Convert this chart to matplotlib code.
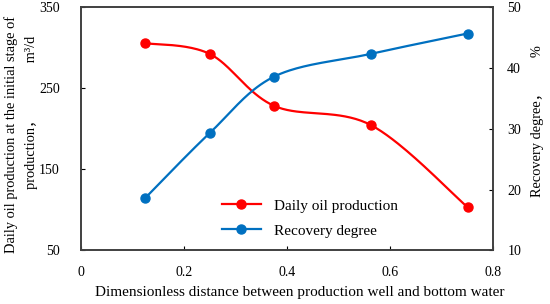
import numpy as np
import matplotlib
matplotlib.use('Agg')
import matplotlib.pyplot as plt

plt.rcParams['font.family'] = ['Liberation Serif', 'Noto Sans CJK SC']

# data
distance = [0.125, 0.25, 0.375, 0.5625, 0.75]
daily_oil = [305.8, 292.6, 228.4, 204.7, 103.3]
recovery = [18.6, 29.3, 38.6, 42.35, 45.7]


def smooth(x, y, xlim, ylim, n=40):
    # spreadsheet-like "smooth line" (Catmull-Rom Bezier), in normalised axes space
    px = (np.asarray(x) - xlim[0]) / (xlim[1] - xlim[0])
    py = (np.asarray(y) - ylim[0]) / (ylim[1] - ylim[0])
    pts = np.column_stack([px, py])
    out = []
    for i in range(len(pts) - 1):
        p0 = pts[i - 1] if i > 0 else pts[i]
        p1, p2 = pts[i], pts[i + 1]
        p3 = pts[i + 2] if i + 2 < len(pts) else pts[i + 1]
        c1 = p1 + (p2 - p0) / 6
        c2 = p2 - (p3 - p1) / 6
        t = np.linspace(0, 1, n)[:, None]
        seg = (1 - t) ** 3 * p1 + 3 * (1 - t) ** 2 * t * c1 + 3 * (1 - t) * t ** 2 * c2 + t ** 3 * p2
        out.append(seg)
    out = np.vstack(out)
    return (out[:, 0] * (xlim[1] - xlim[0]) + xlim[0],
            out[:, 1] * (ylim[1] - ylim[0]) + ylim[0])


W, H = 550, 304
fig = plt.figure(figsize=(5.5, 3.04), dpi=100)
ax = fig.add_axes([0.1467, 0.1766, 0.897 - 0.1467, 0.9757 - 0.1766])
ax2 = ax.twinx()

xlim = (0, 0.8)
ylim1 = (50, 350)
ylim2 = (10, 50)

red = '#FF0000'
blue = '#0070C0'

sx, sy = smooth(distance, daily_oil, xlim, ylim1)
ax.plot(sx, sy, color=red, lw=1.6)
ax.plot(distance, daily_oil, 'o', color=red, ms=6.5, ls='None')

sx2, sy2 = smooth(distance, recovery, xlim, ylim2)
ax2.plot(sx2, sy2, color=blue, lw=1.6)
ax2.plot(distance, recovery, 'o', color=blue, ms=6.5, ls='None')

ax.set_xlim(*xlim)
ax.set_ylim(*ylim1)
ax2.set_ylim(*ylim2)
ax.set_xticks([0, 0.2, 0.4, 0.6, 0.8])
ax.set_xticklabels(['0', '0.2', '0.4', '0.6', '0.8'])
ax.set_yticks([50, 150, 250, 350])
ax2.set_yticks([10, 20, 30, 40, 50])

ax.tick_params(axis='x', direction='in', length=3, pad=11, labelsize=10)
ax.tick_params(axis='y', direction='in', length=3, pad=15, labelsize=10)
ax2.tick_params(axis='y', direction='in', length=3, pad=10, labelsize=10)

for a in (ax, ax2):
    for s in a.spines.values():
        s.set_color('#404040')
        s.set_linewidth(1.2)

# axis titles placed where the reference has them
fig.text(299.5 / W, 1 - 292.7 / H,
         'Dimensionless distance between production well and bottom water',
         fontsize=11, ha='center', va='center')
fig.text(10.7 / W, 1 - 134 / H, 'Daily oil production at the initial stage of',
         fontsize=10.4, rotation=90, ha='center', va='center')
fig.text(31.7 / W, 1 - 112 / H, 'production，\u3000\u3000\u3000  m\u00b3/d',
         fontsize=10.4, rotation=90, ha='center', va='center')
fig.text(537 / W, 1 - 121 / H, 'Recovery degree，\u3000\u3000%',
         fontsize=10.4, rotation=90, ha='center', va='center')

h1 = plt.Line2D([], [], color=red, marker='o', ms=6.5, lw=1.6)
h2 = plt.Line2D([], [], color=blue, marker='o', ms=6.5, lw=1.6)
ax.legend([h1, h2], ['Daily oil production', 'Recovery degree'],
          loc='lower left', bbox_to_anchor=(0.31, -0.005), frameon=False,
          fontsize=11, handlelength=2.5, handletextpad=0.9, labelspacing=0.75)

fig.savefig('out.png', dpi=100)
